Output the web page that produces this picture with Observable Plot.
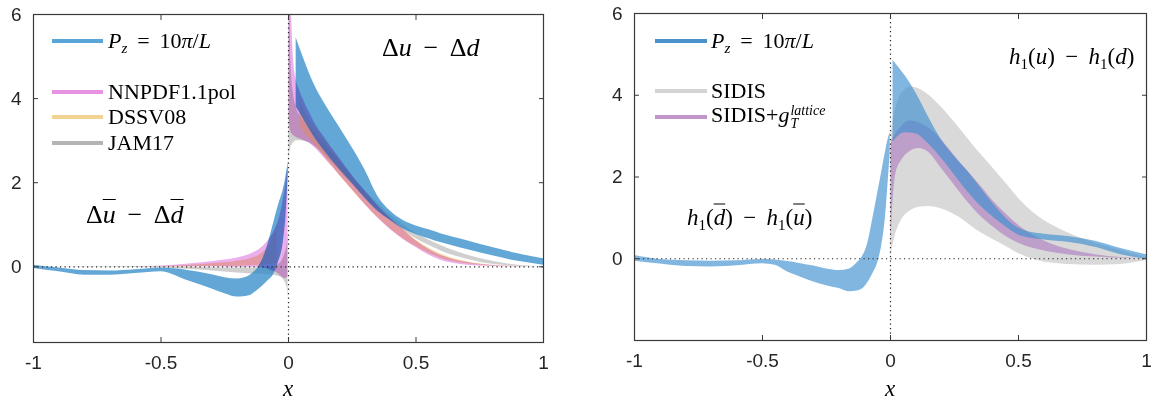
<!DOCTYPE html>
<html><head><meta charset="utf-8">
<script src="https://cdn.jsdelivr.net/npm/d3@7"></script>
<script src="https://cdn.jsdelivr.net/npm/@observablehq/plot@0.6"></script>
<style>
body{margin:0;background:#fff;}
#wrap{position:relative;width:1153px;height:405px;overflow:hidden;background:#fff;}
.p{position:absolute;top:0;}
.t{position:absolute;white-space:nowrap;font-family:"Liberation Serif","Times New Roman",serif;color:#000;line-height:1;transform:translateY(-50%);font-size:22px;}
.i{font-style:italic}
.ln{position:absolute;height:4px;transform:translateY(-50%);}
.ov{text-decoration:overline;text-decoration-thickness:1.3px;}
.sb{font-size:15px;position:relative;top:5px;}
.stk{display:inline-flex;flex-direction:column;vertical-align:middle;font-size:14px;font-style:italic;line-height:13px;margin-left:1px;}
</style></head><body><div id="wrap"></div><script>
// ---------- ticks ----------
const xTicks = [-1, -0.5, 0, 0.5, 1];
const yTicks = [0, 2, 4, 6];

// ---------- Left panel: Δu − Δd ----------
// lattice P_z = 10π/L, x < 0
const latL_negX  = [-1, -0.9, -0.8, -0.7, -0.6, -0.5, -0.4, -0.3, -0.25, -0.2, -0.15, -0.12, -0.1, -0.08, -0.06, -0.04, -0.02, -0.01, -0.001];
const latL_negHi = [0.04, -0.03, -0.09, -0.1, -0.07, -0.03, -0.08, -0.19, -0.26, -0.29, -0.2, -0.02, 0.2, 0.55, 1.0, 1.45, 1.85, 2.15, 2.5];
const latL_negLo = [-0.04, -0.12, -0.2, -0.2, -0.16, -0.12, -0.32, -0.53, -0.64, -0.72, -0.68, -0.55, -0.45, -0.33, -0.2, 0.1, 0.6, 1.2, 2.2];
// lattice, x > 0
const latL_posX  = [0.03, 0.06, 0.1, 0.15, 0.2, 0.25, 0.3, 0.35, 0.4, 0.45, 0.5, 0.55, 0.6, 0.7, 0.8, 0.9, 1.0];
const latL_posHi = [5.45, 4.95, 4.35, 3.8, 3.32, 2.83, 2.3, 1.68, 1.32, 1.1, 0.97, 0.88, 0.78, 0.62, 0.46, 0.31, 0.19];
const latL_posLo = [3.8, 3.5, 3.1, 2.68, 2.32, 1.98, 1.63, 1.32, 1.1, 0.9, 0.77, 0.67, 0.57, 0.41, 0.26, 0.13, 0.04];
// NNPDF1.1pol
const nn_negX  = [-1, -0.7, -0.55, -0.45, -0.35, -0.25, -0.2, -0.15, -0.1, -0.07, -0.05, -0.03, -0.02, -0.01, -0.002];
const nn_negHi = [0, 0, 0.01, 0.04, 0.09, 0.16, 0.21, 0.3, 0.48, 0.7, 0.92, 1.3, 1.6, 2.0, 2.4];
const nn_negLo = [0, 0, 0, 0, 0, -0.005, -0.01, -0.01, -0.03, -0.08, -0.13, -0.22, -0.27, -0.28, -0.22];
const nn_posX  = [0.002, 0.006, 0.01, 0.015, 0.02, 0.03, 0.04, 0.06, 0.08, 0.1, 0.15, 0.2, 0.25, 0.3, 0.35, 0.4, 0.45, 0.5, 0.55, 0.6, 0.65, 0.7, 0.75, 0.8, 0.9, 1.0];
const nn_posHi = [9, 8, 6.5, 5.5, 4.9, 4.45, 4.25, 3.95, 3.7, 3.45, 3.0, 2.58, 2.17, 1.8, 1.45, 1.15, 0.88, 0.62, 0.42, 0.27, 0.17, 0.11, 0.06, 0.03, 0.01, 0];
const nn_posLo = [3.6, 3.3, 3.2, 3.15, 3.12, 3.08, 3.05, 3.0, 2.95, 2.85, 2.52, 2.18, 1.83, 1.48, 1.16, 0.88, 0.65, 0.46, 0.28, 0.15, 0.08, 0.04, 0.02, 0.01, 0, 0];
// DSSV08
const ds_negX  = [-1, -0.6, -0.5, -0.4, -0.3, -0.2, -0.15, -0.1, -0.07, -0.045];
const ds_negHi = [0, 0, 0.01, 0.03, 0.07, 0.13, 0.19, 0.34, 0.55, 0.95];
const ds_negLo = [0, 0, 0, 0, 0.005, 0.015, 0.025, 0.04, 0.06, 0.09];
const ds_posX  = [0.045, 0.06, 0.08, 0.1, 0.15, 0.2, 0.25, 0.3, 0.35, 0.4, 0.45, 0.5, 0.55, 0.6, 0.7, 0.8, 0.9, 1.0];
const ds_posHi = [4.0, 3.75, 3.52, 3.35, 2.95, 2.55, 2.15, 1.78, 1.45, 1.15, 0.88, 0.64, 0.45, 0.3, 0.12, 0.04, 0.01, 0];
const ds_posLo = [3.35, 3.2, 3.05, 2.92, 2.55, 2.18, 1.82, 1.48, 1.17, 0.9, 0.67, 0.48, 0.32, 0.2, 0.07, 0.02, 0, 0];
// JAM17
const jam_negX  = [-1, -0.7, -0.5, -0.4, -0.3, -0.2, -0.15, -0.1, -0.06, -0.03, -0.015, -0.006, -0.002];
const jam_negHi = [0, 0, 0, -0.01, -0.02, -0.03, -0.03, -0.02, 0, 0.1, 0.3, 0.5, 0.8];
const jam_negLo = [0, -0.01, -0.03, -0.06, -0.1, -0.15, -0.17, -0.18, -0.2, -0.25, -0.35, -0.5, -0.75];
const jam_posX  = [0.002, 0.006, 0.01, 0.02, 0.03, 0.05, 0.08, 0.1, 0.15, 0.2, 0.25, 0.3, 0.35, 0.4, 0.45, 0.5, 0.55, 0.6, 0.65, 0.7, 0.75, 0.8, 0.85, 0.9, 0.95, 1.0];
const jam_posHi = [8, 6, 4.8, 4.1, 3.8, 3.55, 3.35, 3.2, 2.85, 2.5, 2.15, 1.82, 1.52, 1.24, 1.0, 0.8, 0.64, 0.5, 0.38, 0.28, 0.2, 0.13, 0.08, 0.04, 0.015, 0];
const jam_posLo = [2.5, 2.75, 2.85, 2.95, 3.0, 3.0, 2.95, 2.88, 2.6, 2.28, 1.96, 1.65, 1.36, 1.1, 0.87, 0.67, 0.51, 0.37, 0.26, 0.18, 0.11, 0.06, 0.03, 0.01, 0, 0];

// ---------- Right panel: h1(u) − h1(d) ----------
const latR_negX  = [-1, -0.9, -0.8, -0.7, -0.6, -0.5, -0.45, -0.4, -0.35, -0.3, -0.25, -0.2, -0.16, -0.13, -0.11, -0.09, -0.07, -0.05, -0.035, -0.02, -0.01, -0.001];
const latR_negHi = [0.08, -0.02, -0.05, -0.06, -0.05, -0.02, -0.03, -0.07, -0.12, -0.18, -0.25, -0.29, -0.25, -0.1, 0.05, 0.35, 0.95, 1.6, 2.1, 2.6, 2.9, 3.1];
const latR_negLo = [-0.06, -0.13, -0.19, -0.2, -0.17, -0.12, -0.16, -0.33, -0.45, -0.57, -0.66, -0.73, -0.81, -0.79, -0.74, -0.6, -0.38, -0.1, 0.3, 1.0, 1.8, 2.6];
const latR_posX  = [0.01, 0.03, 0.06, 0.1, 0.15, 0.2, 0.25, 0.3, 0.35, 0.4, 0.45, 0.5, 0.55, 0.6, 0.65, 0.7, 0.8, 0.9, 1.0];
const latR_posHi = [4.85, 4.7, 4.45, 4.05, 3.45, 2.9, 2.5, 2.15, 1.75, 1.35, 1.0, 0.75, 0.64, 0.6, 0.57, 0.54, 0.43, 0.25, 0.1];
const latR_posLo = [2.85, 3.0, 3.08, 3.05, 2.8, 2.45, 2.05, 1.65, 1.3, 1.02, 0.78, 0.58, 0.5, 0.46, 0.43, 0.4, 0.28, 0.1, -0.01];
// SIDIS
const sid_X  = [0.002, 0.005, 0.01, 0.02, 0.03, 0.055, 0.08, 0.11, 0.15, 0.2, 0.267, 0.33, 0.4, 0.46, 0.5, 0.56, 0.62, 0.69, 0.8, 0.9, 0.95, 1.0];
const sid_Hi = [2.7, 3.1, 3.35, 3.65, 3.87, 4.12, 4.2, 4.16, 4.0, 3.7, 3.21, 2.72, 2.22, 1.78, 1.48, 1.12, 0.86, 0.64, 0.38, 0.2, 0.11, 0.02];
const sid_Lo = [0.0, 0.18, 0.33, 0.6, 0.78, 1.05, 1.18, 1.26, 1.28, 1.22, 1.02, 0.73, 0.47, 0.27, 0.13, -0.02, -0.1, -0.14, -0.16, -0.14, -0.1, -0.04];
// SIDIS + g_T^lattice
const sg_X  = [0.002, 0.006, 0.01, 0.02, 0.045, 0.075, 0.11, 0.15, 0.2, 0.25, 0.3, 0.35, 0.4, 0.45, 0.5, 0.56, 0.625, 0.69, 0.8, 0.9, 1.0];
const sg_Hi = [2.8, 2.9, 2.95, 3.05, 3.25, 3.37, 3.33, 3.2, 2.9, 2.52, 2.15, 1.8, 1.42, 1.1, 0.82, 0.57, 0.37, 0.24, 0.1, 0.03, 0];
const sg_Lo = [0.3, 1.0, 1.4, 2.05, 2.42, 2.62, 2.7, 2.6, 2.2, 1.8, 1.4, 1.05, 0.78, 0.55, 0.38, 0.25, 0.16, 0.1, 0.04, 0.01, 0];

// ---------- helpers ----------
const rows = (xs, lo, hi, part) => xs.map((x, i) => ({x, lo: lo[i], hi: hi[i], part}));
const band = (data, fill, op) => Plot.areaY(data, {x: "x", y1: "lo", y2: "hi", z: "part", fill, fillOpacity: op, curve: "monotone-x", clip: true});
const fmt = d => String(d);
const none = () => "";
const AX = "#3a3a3a";
const frameMarks = () => [
  Plot.ruleY([0], {stroke: "#222", strokeWidth: 1.2, strokeDasharray: "1.2,3.3"}),
  Plot.ruleX([0], {stroke: "#222", strokeWidth: 1.2, strokeDasharray: "1.2,3.3"}),
  Plot.frame({stroke: AX, strokeWidth: 1.2}),
  // labels
  Plot.axisX(xTicks, {anchor: "bottom", tickSize: 0, tickPadding: 13, tickFormat: fmt, label: null}),
  Plot.axisY(yTicks, {anchor: "left", tickSize: 0, tickPadding: 12, tickFormat: fmt, label: null}),
  // inward ticks on all four sides
  Plot.axisX(xTicks, {anchor: "bottom", tickSize: 5, dy: -5, tickFormat: none, label: null, stroke: AX}),
  Plot.axisX(xTicks, {anchor: "top", tickSize: 5, dy: 5, tickFormat: none, label: null, stroke: AX}),
  Plot.axisY(yTicks, {anchor: "left", tickSize: 5, dx: 5, tickFormat: none, label: null, stroke: AX}),
  Plot.axisY(yTicks, {anchor: "right", tickSize: 5, dx: -5, tickFormat: none, label: null, stroke: AX})
];
const style = {fontFamily: "'Liberation Sans', Arial, sans-serif", fontSize: "19px", color: "#262626", background: "transparent", overflow: "visible"};

const leftPlot = Plot.plot({
  width: 590, height: 405, marginLeft: 33, marginRight: 47, marginTop: 14, marginBottom: 63,
  x: {domain: [-1, 1]}, y: {domain: [-1.8, 6]}, style,
  marks: [
    band([...rows(jam_negX, jam_negLo, jam_negHi, "n"), ...rows(jam_posX, jam_posLo, jam_posHi, "p")], "#a8a8a8", 0.55),
    band([...rows(ds_negX, ds_negLo, ds_negHi, "n"), ...rows(ds_posX, ds_posLo, ds_posHi, "p")], "#f2c874", 0.55),
    band([...rows(latL_negX, latL_negLo, latL_negHi, "n"), ...rows(latL_posX, latL_posLo, latL_posHi, "p")], "#2f8ac8", 0.75),
    band([...rows(nn_negX, nn_negLo, nn_negHi, "n"), ...rows(nn_posX, nn_posLo, nn_posHi, "p")], "#d860d8", 0.5),
    ...frameMarks()
  ]
});
const rightPlot = Plot.plot({
  width: 563, height: 405, marginLeft: 44, marginRight: 7, marginTop: 13, marginBottom: 65,
  x: {domain: [-1, 1]}, y: {domain: [-2, 6]}, style,
  marks: [
    band(rows(sid_X, sid_Lo, sid_Hi, "p"), "#d9d9d9", 1),
    band(rows(sg_X, sg_Lo, sg_Hi, "p"), "#9b59b6", 0.45),
    band([...rows(latR_negX, latR_negLo, latR_negHi, "n"), ...rows(latR_posX, latR_posLo, latR_posHi, "p")], "#3c8fcf", 0.65),
    ...frameMarks()
  ]
});
// NNPDF band (4th area) is overlaid multiplicatively
d3.select(leftPlot).selectAll('g[aria-label="area"]').each(function (d, i) {
  if (i === 3) this.style.mixBlendMode = "multiply";
});

const wrap = document.getElementById("wrap");
leftPlot.classList.add("p"); leftPlot.style.left = "0px";
rightPlot.classList.add("p"); rightPlot.style.left = "590px";
wrap.append(leftPlot, rightPlot);

const pz = '<span class="i">P</span><span class="i sb">z</span>&thinsp; = &thinsp;10<span class="i">π</span>/<span class="i">L</span>';
const sub1 = '<span class="sb">1</span>';
const overlays = [
  // left legend
  {line: [52, 41, 51, "#5aa5d8"]}, {text: [108, 41, pz]},
  {line: [52, 92, 51, "#e893e2"]}, {text: [108, 92, "NNPDF1.1pol"]},
  {line: [52, 117, 51, "#f3d391"]}, {text: [108, 117, "DSSV08"]},
  {line: [52, 143, 51, "#b4b4b4"]}, {text: [108, 143, "JAM17"]},
  {text: [382, 48, 'Δ<span class="i">u</span>&thinsp; − &thinsp;Δ<span class="i">d</span>', 26]},
  {text: [86, 215, 'Δ<span class="i ov">u</span>&thinsp; − &thinsp;Δ<span class="i ov">d</span>', 26]},
  {text: [283, 388, '<span class="i">x</span>', 23]},
  // right legend
  {line: [655, 41, 52, "#4a92cb"]}, {text: [711, 41, pz]},
  {line: [655, 91, 52, "#d3d3d3"]}, {text: [711, 91, "SIDIS"]},
  {line: [655, 117, 52, "#c195cb"]}, {text: [711, 117, 'SIDIS+<span class="i">g</span><span class="stk"><span>lattice</span><span>T</span></span>']},
  {text: [1009, 56, '<span class="i">h</span>' + sub1 + '(<span class="i">u</span>)&thinsp; − &thinsp;<span class="i">h</span>' + sub1 + '(<span class="i">d</span>)', 23]},
  {text: [687, 217, '<span class="i">h</span>' + sub1 + '(<span class="i ov">d</span>)&thinsp; − &thinsp;<span class="i">h</span>' + sub1 + '(<span class="i ov">u</span>)', 23]},
  {text: [885, 388, '<span class="i">x</span>', 23]}
];
for (const o of overlays) {
  const d = document.createElement("div");
  if (o.line) {
    const [x, y, w, c] = o.line;
    d.className = "ln"; d.style.left = x + "px"; d.style.top = y + "px"; d.style.width = w + "px"; d.style.background = c;
  } else {
    const [x, y, html, fs] = o.text;
    d.className = "t"; d.style.left = x + "px"; d.style.top = y + "px"; if (fs) d.style.fontSize = fs + "px";
    d.innerHTML = html;
  }
  wrap.append(d);
}
</script></body></html>
